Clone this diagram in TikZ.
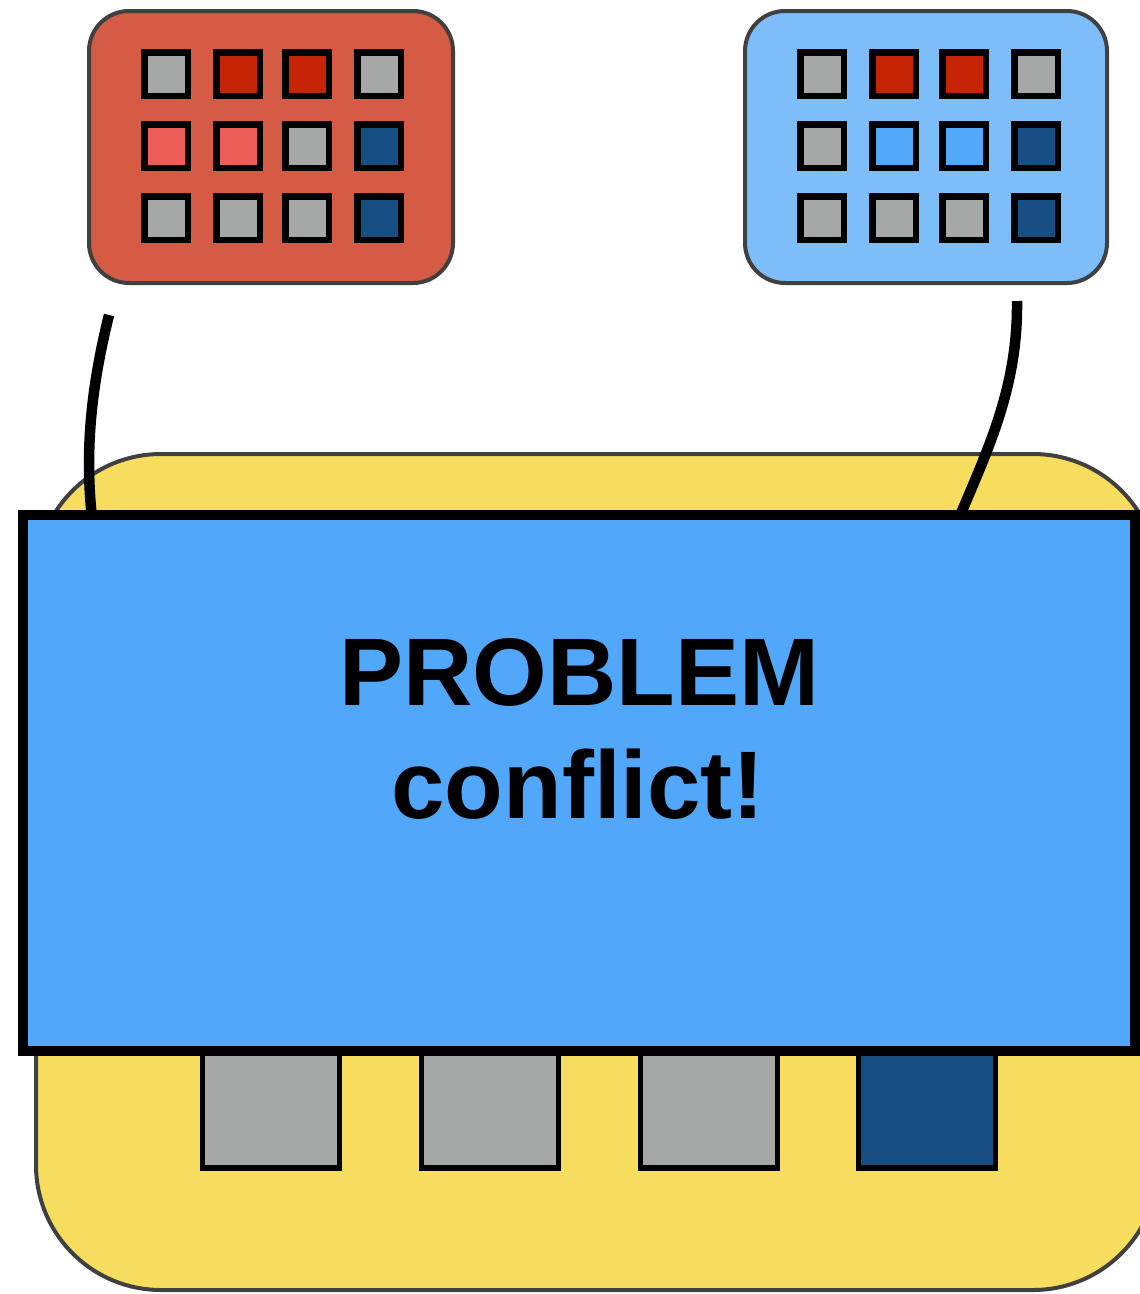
\documentclass[tikz,border=0pt]{standalone}
\usepackage{fontspec}
\setmainfont{Liberation Sans}
\definecolor{yel}{HTML}{F6DD5E}
\definecolor{redbox}{HTML}{D55B45}
\definecolor{lbluebox}{HTML}{7DBDF9}
\definecolor{bluerect}{HTML}{51A7F9}
\definecolor{sqgray}{HTML}{A5A8A6}
\definecolor{sqdred}{HTML}{C52406}
\definecolor{sqsalmon}{HTML}{EC5E57}
\definecolor{sqdblue}{HTML}{174F85}
\definecolor{sqlblue}{HTML}{52A8F9}
\definecolor{bordergray}{HTML}{404040}
\tikzset{
  panel/.style={draw=bordergray, line width=4pt, rounded corners=40pt, minimum width=364pt, minimum height=272pt, inner sep=0pt},
  cell/.style={draw=black, line width=6.5pt, minimum size=43.5pt, inner sep=0pt, fill=#1},
  bigcell/.style={draw=black, line width=5.5pt, minimum width=137pt, minimum height=168pt, inner sep=0pt, fill=#1},
  wire/.style={draw=black, line width=10.5pt},
  bigtext/.style={font=\fontsize{96}{110}\selectfont\bfseries, inner sep=0pt, anchor=base}
}
\begin{document}
\begin{tikzpicture}[x=1pt,y=-1pt]
\useasboundingbox (0,0) rectangle (1140,1294);
\clip (0,0) rectangle (1140,1294);
% base yellow box
\node[draw=bordergray, line width=4pt, fill=yel, rounded corners=125pt, minimum width=1122pt, minimum height=836pt, inner sep=0pt] (base) at (597,872) {};
% bottom squares
\node[bigcell=sqgray] (b1) at (271,1084) {};
\node[bigcell=sqgray] (b2) at (490,1084) {};
\node[bigcell=sqgray] (b3) at (709,1084) {};
\node[bigcell=sqdblue] (b4) at (927,1084) {};
% top panels
\node[panel, fill=redbox] (left) at (271,147) {};
\node[panel, fill=lbluebox, minimum width=362pt] (right) at (926,147) {};
% left panel cells
\node[cell=sqgray]   (l11) at (166,74) {};
\node[cell=sqdred]   (l12) at (238,74) {};
\node[cell=sqdred]   (l13) at (307,74) {};
\node[cell=sqgray]   (l14) at (379,74) {};
\node[cell=sqsalmon] (l21) at (166,146) {};
\node[cell=sqsalmon] (l22) at (238,146) {};
\node[cell=sqgray]   (l23) at (307,146) {};
\node[cell=sqdblue]  (l24) at (379,146) {};
\node[cell=sqgray]   (l31) at (166,218) {};
\node[cell=sqgray]   (l32) at (238,218) {};
\node[cell=sqgray]   (l33) at (307,218) {};
\node[cell=sqdblue]  (l34) at (379,218) {};
% right panel cells
\node[cell=sqgray]   (r11) at (822,74) {};
\node[cell=sqdred]   (r12) at (894,74) {};
\node[cell=sqdred]   (r13) at (964,74) {};
\node[cell=sqgray]   (r14) at (1036,74) {};
\node[cell=sqgray]   (r21) at (822,146) {};
\node[cell=sqlblue]  (r22) at (894,146) {};
\node[cell=sqlblue]  (r23) at (964,146) {};
\node[cell=sqdblue]  (r24) at (1036,146) {};
\node[cell=sqgray]   (r31) at (822,218) {};
\node[cell=sqgray]   (r32) at (894,218) {};
\node[cell=sqgray]   (r33) at (964,218) {};
\node[cell=sqdblue]  (r34) at (1036,218) {};
% connectors
\coordinate (lstart) at (109,315);
\coordinate (lend) at (92,518);
\coordinate (rstart) at (1017,301);
\coordinate (rend) at (959,518);
\draw[wire] (lstart) .. controls (93,380) and (84,445) .. (lend);
\draw[wire] (rstart) .. controls (1018,385) and (990,445) .. (rend);
% problem rectangle
\node[draw=black, line width=10pt, fill=bluerect, minimum width=1112pt, minimum height=536pt, inner sep=0pt] (problem) at (579,783) {};
\node[bigtext] (t1) at (579,705) {PROBLEM};
\node[bigtext] (t2) at (578,818) {conflict!};
\end{tikzpicture}
\end{document}
